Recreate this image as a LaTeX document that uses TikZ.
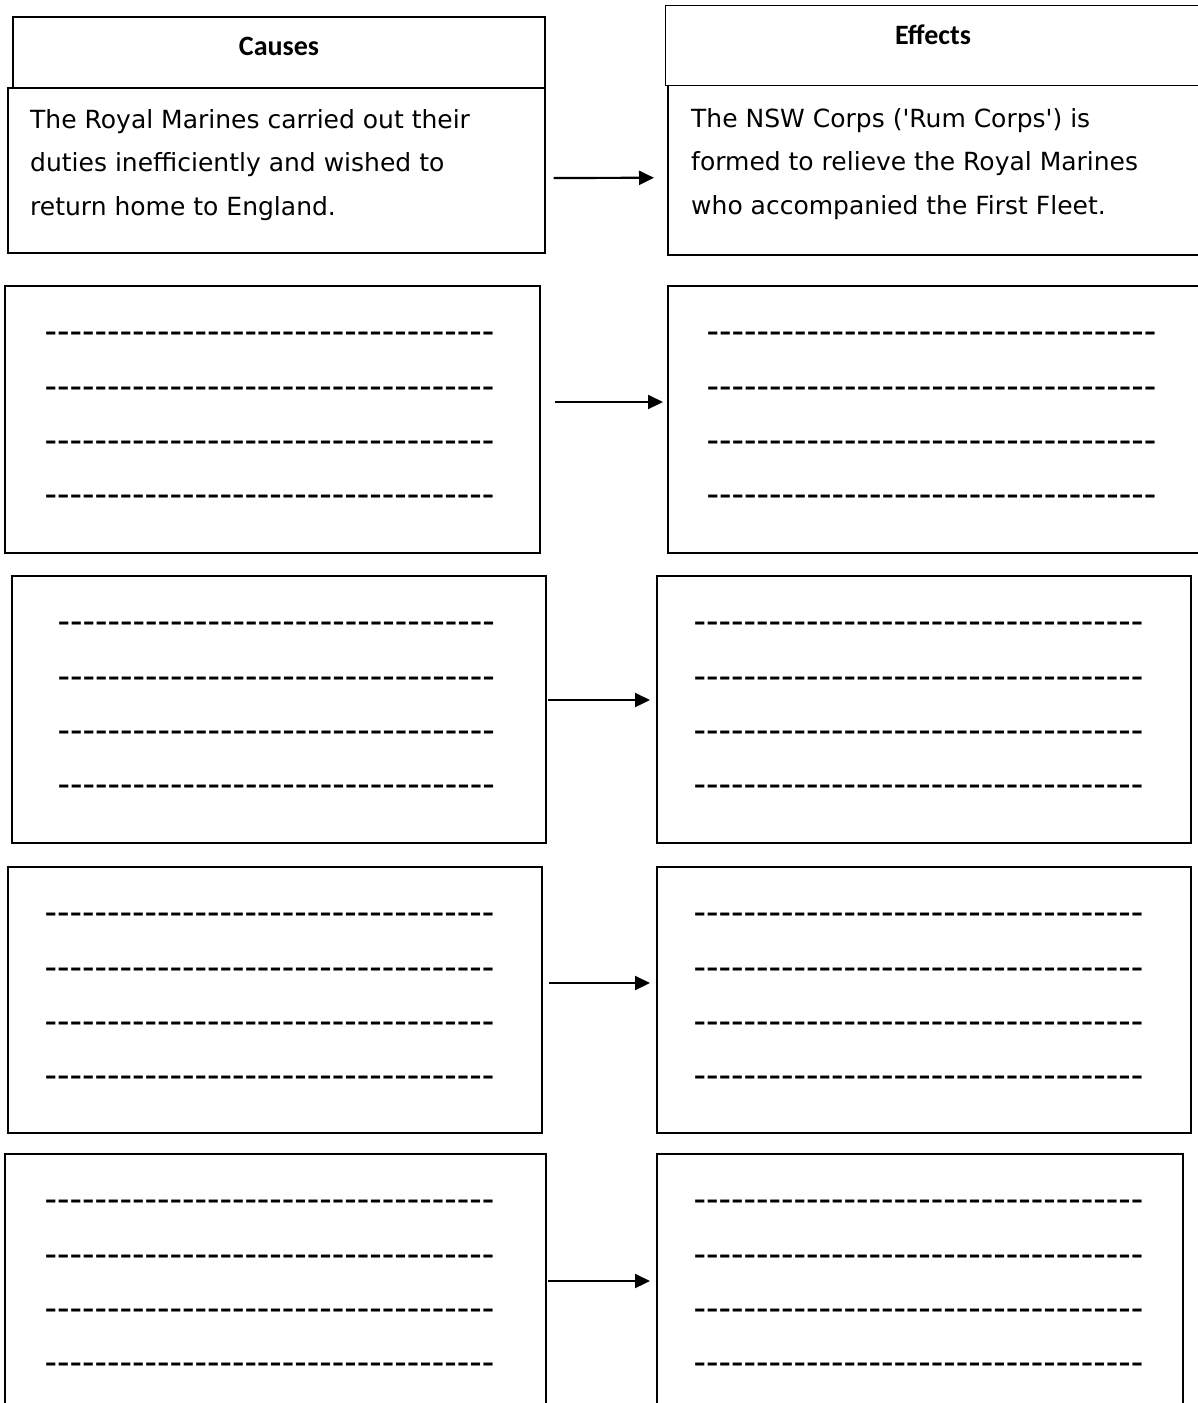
\documentclass[tikz,border=0pt]{standalone}
\usepackage{fontspec}
\setmainfont{DejaVu Sans}[Ligatures=TeXOff]
\newfontfamily\headfont{Carlito}
\newfontfamily\dashfont{Liberation Sans}[Ligatures=TeXOff]
\usetikzlibrary{arrows.meta}
\def\hy{-\kern0pt}
\def\hyfive{\hy\hy\hy\hy\hy}
\def\hysix{\hy\hy\hy\hy\hy\hy}
\def\dashtext{\hysix\hysix\hysix\hysix\hysix\hysix}
\def\dashtextshort{\hysix\hysix\hysix\hysix\hysix\hyfive}
\begin{document}
\begin{tikzpicture}[x=1pt,y=-1pt,
  box/.style={draw,line width=1.8pt,inner sep=0pt,outer sep=0pt},
  headtext/.style={font=\headfont\bfseries\fontsize{28}{32}\selectfont,inner sep=0pt,anchor=base},
  bodytext/.style={font=\fontsize{25}{43.5}\selectfont,align=left,inner sep=0pt,anchor=north west},
  dashtxt/.style={font=\dashfont\fontsize{37.5}{40}\selectfont,inner sep=0pt,anchor=base west},
  arr/.style={line width=2.2pt,-{Triangle[length=15pt,width=14pt]}}]
\useasboundingbox[fill=white] (0,0) rectangle (1197,1403);

% row 0
\node[box,minimum width=532.4pt,minimum height=71pt] (ch) at (278.8,52.5) {};
\node[box,minimum width=537pt,minimum height=165pt] (c0) at (276.5,170.5) {};
\node[box,minimum width=536.5pt,minimum height=80pt] (eh) at (933.75,45.5) {};
\node[box,minimum width=534pt,minimum height=169.5pt] (e0) at (935,170.25) {};
\node[headtext] (causes) at (279,55) {Causes};
\node[headtext] (effects) at (933,44) {Effects};
\node[bodytext] (ctext) at (30,109) {The Royal Marines carried out their\\duties inefficiently and wished to\\return home to England.};
\node[bodytext] (etext) at (691,108) {The NSW Corps ('Rum Corps') is\\formed to relieve the Royal Marines\\who accompanied the First Fleet.};
\draw[arr,shorten <=8.5pt,shorten >=14pt] ([yshift=-7.5pt]c0.east) -- ([yshift=-7.5pt]e0.west);

% row 1
\node[box,minimum width=535pt,minimum height=267pt] (c1) at (272.5,419.5) {};
\node[box,minimum width=534pt,minimum height=267pt] (e1) at (935,419.5) {};
\draw[arr,shorten <=15pt,shorten >=5pt] ([yshift=17.5pt]c1.east) -- ([yshift=17.5pt]e1.west);

% row 2
\node[box,minimum width=534pt,minimum height=267pt] (c2) at (279,709.5) {};
\node[box,minimum width=534pt,minimum height=267pt] (e2) at (924,709.5) {};
\draw[arr,shorten <=2pt,shorten >=7pt] ([yshift=9.5pt]c2.east) -- ([yshift=9.5pt]e2.west);

% row 3
\node[box,minimum width=534pt,minimum height=266pt] (c3) at (275,1000) {};
\node[box,minimum width=534pt,minimum height=266pt] (e3) at (924,1000) {};
\draw[arr,shorten <=7pt,shorten >=7pt] ([yshift=17pt]c3.east) -- ([yshift=17pt]e3.west);

% row 4
\node[box,minimum width=541pt,minimum height=266pt] (c4) at (275.5,1287) {};
\node[box,minimum width=526pt,minimum height=266pt] (e4) at (920,1287) {};
\draw[arr,shorten <=2pt,shorten >=7pt] ([yshift=6pt]c4.east) -- ([yshift=6pt]e4.west);

% dashed answer lines
\foreach \r/\lx/\rx/\top in {1/46/708/286, 2/59/695/576, 3/46/695/867, 4/46/695/1154}{
  \foreach \k/\dy in {1/48, 2/103, 3/157, 4/211}{
    \ifnum\r=2
      \node[dashtxt] (dl\r\k) at (\lx-1.5,\top+\dy+9.6) {\dashtextshort};
    \else
      \node[dashtxt] (dl\r\k) at (\lx-1.5,\top+\dy+9.6) {\dashtext};
    \fi
    \node[dashtxt] (dr\r\k) at (\rx-1.5,\top+\dy+9.6) {\dashtext};
  }
}
\end{tikzpicture}
\end{document}
